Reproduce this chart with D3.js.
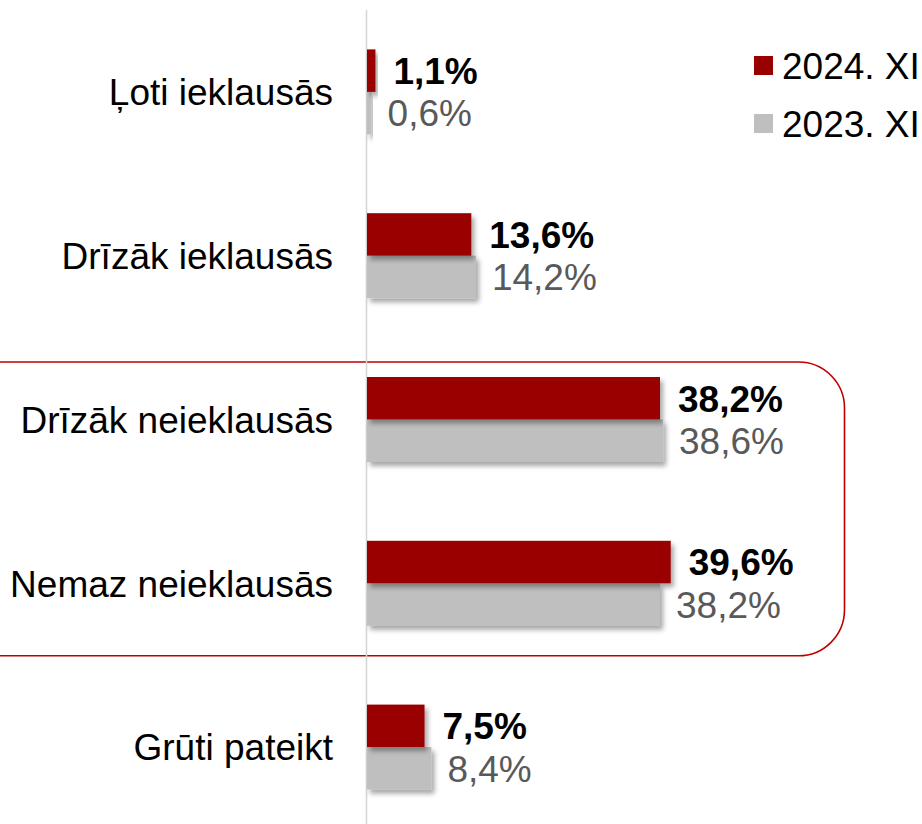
<!DOCTYPE html>
<html>
<head>
<meta charset="utf-8">
<script src="https://cdn.jsdelivr.net/npm/d3@7"></script>
<style>
  body { margin: 0; background: #fff; }
  svg { display: block; font-family: "Liberation Sans", Arial, sans-serif; }
</style>
</head>
<body>
<svg id="chart" width="922" height="824"></svg>
<script>
// data
var categories = ["Ļoti ieklausās", "Drīzāk ieklausās", "Drīzāk neieklausās", "Nemaz neieklausās", "Grūti pateikt"]
var series     = ["2024. XI", "2023. XI"]
var values2024 = [1.1, 13.6, 38.2, 39.6, 7.5]
var values2023 = [0.6, 14.2, 38.6, 38.2, 8.4]
var colors     = ["#990000", "#bfbfbf"]
var labelColors = ["#000000", "#595959"]

var svg = d3.select("#chart")
var fontSize = 37
var barH = 42.5

var x = d3.scaleLinear().domain([0, 50]).range([367, 367 + 50 * 7.67])
var y = d3.scaleBand().domain(categories).range([10, 829])

// shadow filter
var defs = svg.append("defs")
var f = defs.append("filter").attr("id", "shadow")
    .attr("x", "-20%").attr("y", "-20%").attr("width", "150%").attr("height", "160%")
f.append("feDropShadow")
    .attr("dx", 3).attr("dy", 4).attr("stdDeviation", 2.5)
    .attr("flood-color", "#000").attr("flood-opacity", 0.35)

// highlight box round categories 3 and 4
var boxTop = y(categories[2]) + y.bandwidth() / 2 - barH - 15
var boxBottom = y(categories[3]) + y.bandwidth() / 2 + barH + 30
svg.append("rect")
    .attr("x", -60)
    .attr("y", boxTop)
    .attr("width", 844.5 + 60)
    .attr("height", boxBottom - boxTop)
    .attr("rx", 46)
    .attr("fill", "none")
    .attr("stroke", "#c00000")
    .attr("stroke-width", 1.6)

// axis line
svg.append("line")
    .attr("x1", x(0) - 0.5).attr("x2", x(0) - 0.5)
    .attr("y1", 10).attr("y2", 824)
    .attr("stroke", "#d4d4d4").attr("stroke-width", 1.5)

var rows = categories.map(function(c, i) { return {cat: c, v: [values2024[i], values2023[i]]} })

var groups = svg.selectAll("g.row")
    .data(rows)
    .enter()
        .append("g")
        .attr("class", "row")
        .attr("transform", function(d) { return "translate(0," + (y(d.cat) + y.bandwidth() / 2) + ")" })

// draw gray (2023) first so the shadow of red sits over it
;[1, 0].forEach(function(s) {
    groups.append("rect")
        .attr("x", x(0))
        .attr("y", s == 0 ? -barH : 0)
        .attr("width", function(d) { return x(d.v[s]) - x(0) })
        .attr("height", barH)
        .attr("fill", colors[s])
        .attr("filter", "url(#shadow)")
})

;[0, 1].forEach(function(s) {
    groups.append("text")
        .attr("x", function(d) { return x(d.v[s]) + (s == 0 ? 18 : 16) })
        .attr("y", s == 0 ? -barH / 2 : barH / 2)
        .attr("dy", "0.36em")
        .attr("font-size", fontSize)
        .attr("font-weight", s == 0 ? "bold" : "normal")
        .attr("fill", labelColors[s])
        .text(function(d) { return d.v[s].toFixed(1).replace(".", ",") + "%" })
})

// category labels
groups.append("text")
    .attr("x", 333)
    .attr("y", 0)
    .attr("dy", "0.36em")
    .attr("text-anchor", "end")
    .attr("font-size", fontSize)
    .attr("fill", "#000")
    .text(function(d) { return d.cat })

// legend
var legend = svg.selectAll("g.legend")
    .data(series)
    .enter()
        .append("g")
        .attr("class", "legend")
        .attr("transform", function(d, i) { return "translate(754," + (56 + i * 58) + ")" })

legend.append("rect")
    .attr("width", 19).attr("height", 19)
    .attr("fill", function(d, i) { return colors[i] })

legend.append("text")
    .attr("x", 28)
    .attr("y", 9.5)
    .attr("dy", "0.36em")
    .attr("font-size", fontSize)
    .attr("fill", "#000")
    .text(function(d) { return d })
</script>
</body>
</html>
